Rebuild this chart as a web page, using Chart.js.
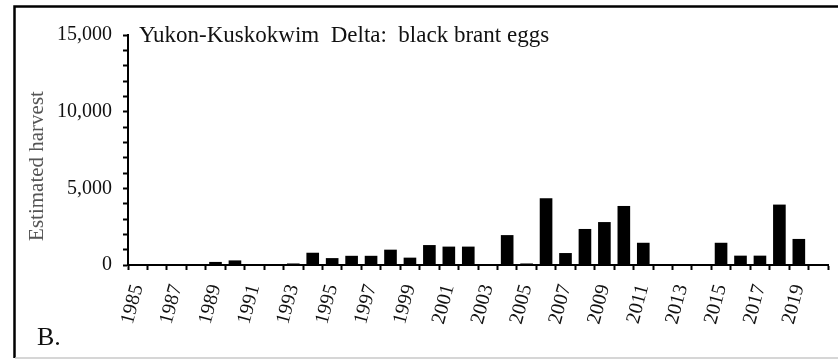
<!DOCTYPE html>
<html>
<head>
<meta charset="utf-8">
<script src="https://cdn.jsdelivr.net/npm/chart.js@4.4.0/dist/chart.umd.min.js"></script>
<style>
  html, body { margin: 0; padding: 0; background: #fff; }
  #wrap { width: 838px; height: 360px; position: relative; }
</style>
</head>
<body>
<div id="wrap"><canvas id="harvestChart" width="838" height="360"></canvas></div>
<script>
// Yukon-Kuskokwim Delta, estimated harvest of black brant eggs by year

const panelTitle = 'Yukon-Kuskokwim  Delta:  black brant eggs';
const panelLetter = 'B.';
const yAxisTitle = 'Estimated harvest';

const years = [
    '1985', '1986', '1987', '1988', '1989', '1990', '1991', '1992', '1993',
    '1994', '1995', '1996', '1997', '1998', '1999', '2000', '2001', '2002',
    '2003', '2004', '2005', '2006', '2007', '2008', '2009', '2010', '2011',
    '2012', '2013', '2014', '2015', '2016', '2017', '2018', '2019', '2020'
];

// values (0 where no bar is drawn)
const eggHarvest = [
    0, 0, 0, 0, 200, 300, 0, 0, 100,
    800, 450, 600, 600, 1000, 480, 1300, 1200, 1200,
    0, 1950, 100, 4350, 780, 2350, 2800, 3850, 1450,
    0, 0, 0, 1450, 610, 610, 3940, 1700, 0
];

// only every other year gets a label, 2020 stays blank
const labelledYears = [
    '1985', '1987', '1989', '1991', '1993', '1995', '1997', '1999', '2001',
    '2003', '2005', '2007', '2009', '2011', '2013', '2015', '2017', '2019'
];

const serif = '"Liberation Serif", "Times New Roman", serif';

// draws the panel frame and the texts that sit inside the panel
const panelDecor = {
    id: 'panelDecor',
    afterDraw(chart) {
        const ctx = chart.ctx;
        ctx.save();

        // frame: heavy top and left edges, thin grey bottom edge
        ctx.strokeStyle = '#000';
        ctx.lineWidth = 2.5;
        ctx.beginPath();
        ctx.moveTo(838, 6.5);
        ctx.lineTo(14.5, 6.5);
        ctx.lineTo(14.5, 358);
        ctx.stroke();
        ctx.strokeStyle = '#c8c8c8';
        ctx.lineWidth = 1.5;
        ctx.beginPath();
        ctx.moveTo(15, 358);
        ctx.lineTo(838, 358);
        ctx.stroke();

        ctx.fillStyle = '#111';
        ctx.textBaseline = 'alphabetic';
        ctx.textAlign = 'left';
        ctx.font = '23px ' + serif;
        ctx.fillText(panelTitle, 139, 42);

        ctx.font = '26px ' + serif;
        ctx.fillText(panelLetter, 37, 345);

        // y axis title, turned to read bottom to top
        ctx.translate(43, 166);
        ctx.rotate(-Math.PI / 2);
        ctx.textAlign = 'center';
        ctx.textBaseline = 'alphabetic';
        ctx.fillStyle = '#555';
        ctx.font = '21px ' + serif;
        ctx.fillText(yAxisTitle, 0, 0);

        ctx.restore();
    }
};

const ctx = document.getElementById('harvestChart').getContext('2d');
const harvestChart = new Chart(ctx, {
    type: 'bar',
    data: {
        labels: years,
        datasets: [{
            label: yAxisTitle,
            data: eggHarvest,
            backgroundColor: '#000',
            borderWidth: 0,
            barPercentage: 0.65,
            categoryPercentage: 1.0
        }]
    },
    options: {
        responsive: false,
        animation: false,
        devicePixelRatio: 1,
        layout: {
            padding: { left: 14, top: 35, right: 10, bottom: 0 }
        },
        plugins: {
            legend: { display: false },
            tooltip: { enabled: false }
        },
        scales: {
            x: {
                grid: {
                    offset: true,
                    drawOnChartArea: false,
                    drawTicks: true,
                    tickLength: 5,
                    tickWidth: 2,
                    tickColor: '#000'
                },
                border: { display: true, color: '#000', width: 2 },
                ticks: {
                    autoSkip: false,
                    minRotation: 75,
                    maxRotation: 75,
                    padding: 12,
                    color: '#111',
                    font: { family: serif, size: 20 },
                    callback: function(value, index) {
                        const year = years[index];
                        return labelledYears.includes(year) ? year : '';
                    }
                },
                // fixed height, and no extra room kept for the rotated end labels
                afterFit: function(scale) {
                    scale.height = 95;
                    scale.paddingLeft = 0;
                    scale.paddingRight = 0;
                }
            },
            y: {
                min: 0,
                max: 15000,
                grid: {
                    drawOnChartArea: false,
                    drawTicks: true,
                    tickLength: 5,
                    tickWidth: 2,
                    tickColor: '#000'
                },
                border: { display: true, color: '#000', width: 2 },
                ticks: {
                    autoSkip: false,
                    stepSize: 1000,
                    padding: 11,
                    color: '#111',
                    font: { family: serif, size: 20 },
                    callback: function(value) {
                        return value % 5000 === 0 ? value.toLocaleString('en-US') : '';
                    }
                },
                afterFit: function(scale) {
                    scale.width = 114;
                }
            }
        }
    },
    plugins: [panelDecor]
});
</script>
</body>
</html>
